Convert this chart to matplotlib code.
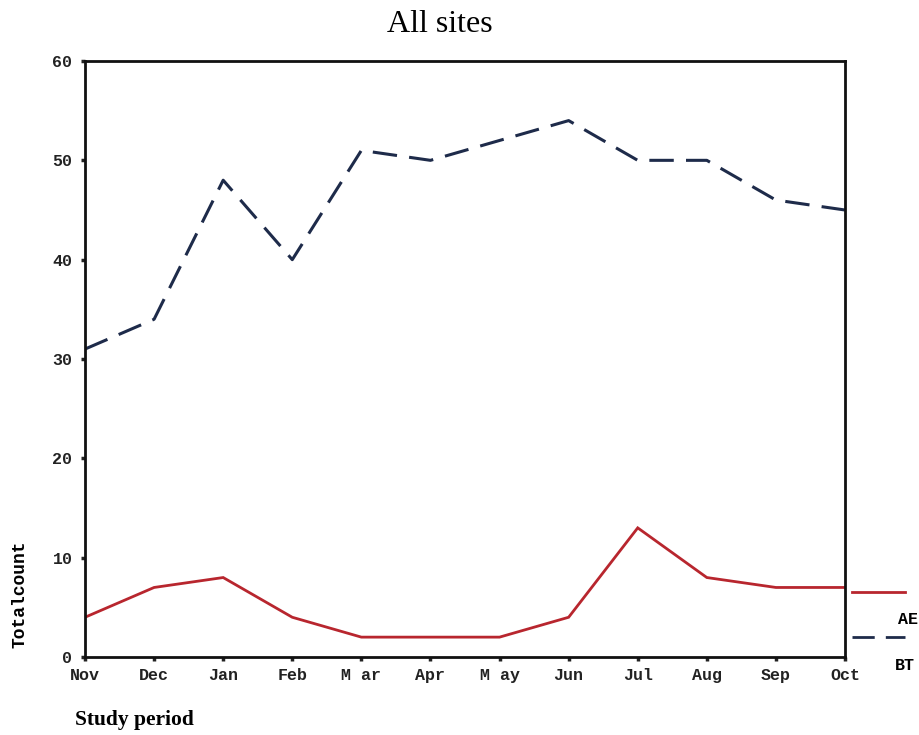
import matplotlib
matplotlib.use("Agg")
import matplotlib.pyplot as plt
from matplotlib.lines import Line2D

months = ["Nov", "Dec", "Jan", "Feb", "M ar", "Apr", "M ay", "Jun", "Jul", "Aug", "Sep", "Oct"]
ae_counts = [4, 7, 8, 4, 2, 2, 2, 4, 13, 8, 7, 7]
bt_counts = [31, 34, 48, 40, 51, 50, 52, 54, 50, 50, 46, 45]
y_ticks = [0, 10, 20, 30, 40, 50, 60]

ae_color = "#b8262e"
bt_color = "#1e2b4a"
mono = ["Liberation Mono", "DejaVu Sans Mono"]

fig = plt.figure(figsize=(9.2, 7.35), dpi=100)
ax = fig.add_axes([85 / 920, 1 - 657 / 735, 760 / 920, 596 / 735])

x = list(range(len(months)))
ax.plot(x, ae_counts, color=ae_color, lw=2.0, solid_joinstyle="miter")
ax.plot(x, bt_counts, color=bt_color, lw=2.2, linestyle=(0, (8, 4)))

ax.set_xlim(0, len(months) - 1)
ax.set_ylim(0, 60)
ax.set_xticks(x)
ax.set_xticklabels(months)
ax.set_yticks(y_ticks)
ax.set_yticklabels([str(v) for v in y_ticks])

for lab in ax.get_xticklabels() + ax.get_yticklabels():
    lab.set_family(mono)
    lab.set_fontweight("bold")
    lab.set_fontsize(12)

ax.tick_params(axis="both", direction="out", length=3, width=2.5, colors="#222222")
ax.tick_params(axis="x", pad=5)
ax.tick_params(axis="y", pad=6)
for s in ax.spines.values():
    s.set_linewidth(2)
    s.set_color("#111111")

fig.text(440 / 920, 1 - 25 / 735, "All sites", ha="center", va="center",
         family=["Liberation Serif", "DejaVu Serif"], fontsize=23)
fig.text(20 / 920, 1 - 594 / 735, "Totalcount", rotation=90, ha="center", va="center",
         family=mono, fontweight="bold", fontsize=13)
fig.text(75 / 920, 1 - 720 / 735, "Study period", ha="left", va="center",
         family=["Liberation Serif", "DejaVu Serif"], fontweight="bold", fontsize=15.5)

# legend entries placed outside the right edge of the plot
fig.add_artist(Line2D([852 / 920, 905 / 920], [1 - 592 / 735, 1 - 592 / 735],
                      color=ae_color, lw=2.0, transform=fig.transFigure))
fig.add_artist(Line2D([852 / 920, 905 / 920], [1 - 637 / 735, 1 - 637 / 735],
                      color=bt_color, lw=2.0, linestyle=(0, (8, 4)), transform=fig.transFigure))
fig.text(898 / 920, 1 - 620 / 735, "AE", ha="left", va="center",
         family=mono, fontweight="bold", fontsize=12)
fig.text(895 / 920, 1 - 665 / 735, "BT", ha="left", va="center",
         family=mono, fontweight="bold", fontsize=12)

fig.savefig("out.png", dpi=100)
